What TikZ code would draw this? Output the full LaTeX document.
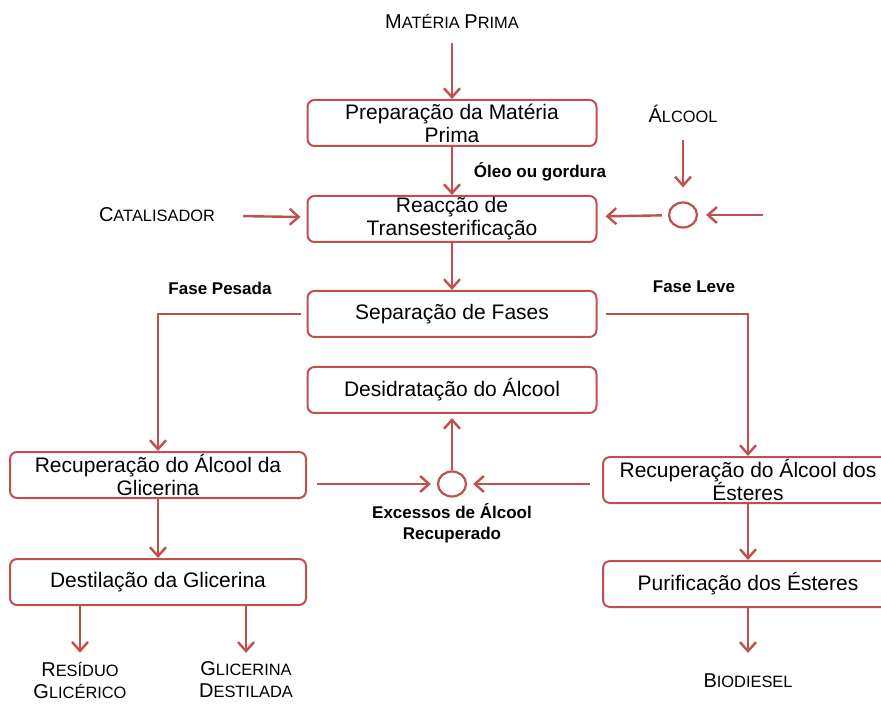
\documentclass[tikz,border=0pt]{standalone}
\usepackage{fontspec}
\setmainfont{Liberation Sans}
\usetikzlibrary{shapes.geometric,arrows.meta,positioning}
\definecolor{flowred}{RGB}{192,80,77}
\newcommand{\capl}[1]{{\fontsize{10}{11}\selectfont #1}}

\begin{document}
\begin{tikzpicture}[x=0.5pt, y=-0.5pt, >={Straight Barb[length=4.5pt,width=8pt]}]
   \useasboundingbox (0,0) rectangle (881,704);
   % process boxes
   \begin{scope}[every node/.style={draw=flowred, line width=1pt, rounded corners=3.5pt, minimum width=144.5pt, minimum height=23pt, inner ysep=0pt, align=center, font=\fontsize{10.5}{11.5}\selectfont}]
    \node (prep) at (452,123) {Preparação da Matéria\\Prima};
    \node (reac) at (452,219) {Reacção de\\Transesterificação};
    \node (sep) at (452,314) {Separação de Fases};
    \node (desid) at (452,390) {Desidratação do Álcool};
    \node (recglic) [minimum width=148pt] at (158,475) {Recuperação do Álcool da\\Glicerina};
    \node (destil) [minimum width=148pt] at (158,582) {Destilação da Glicerina};
    \node (recest) [minimum width=145pt] at (748,480) {Recuperação do Álcool dos\\Ésteres};
    \node (purif) [minimum width=145pt] at (748,584) {Purificação dos Ésteres};
   \end{scope}
   % mixing points
   \begin{scope}[every node/.style={ellipse, draw=flowred, line width=1.1pt, minimum width=14pt, minimum height=12.5pt, inner sep=0pt}]
    \node (alcmix) at (683,215) {};
    \node (excess) at (452,484) {};
   \end{scope}
   % inputs and products
   \begin{scope}[every node/.style={align=center, font=\fontsize{8.2}{11}\selectfont}]
    \node (materia) at (452,21) {\capl{M}ATÉRIA \capl{P}RIMA};
    \node (alcool) at (683,114) {\capl{Á}LCOOL};
    \node (catal) at (157,215) {\capl{C}ATALISADOR};
    \node (residuo) at (80,680) {\capl{R}ESÍDUO\\\capl{G}LICÉRICO};
    \node (glicerina) at (246,680) {\capl{G}LICERINA\\\capl{D}ESTILADA};
    \node (biodiesel) at (748,681) {\capl{B}IODIESEL};
   \end{scope}
   \coordinate (feed) at (763,215);
   % stream labels
   \begin{scope}[every node/.style={align=center, font=\bfseries\fontsize{8.5}{10.5}\selectfont}]
    \node (oleo) at (540,172) {Óleo ou gordura};
    \node (pesada) at (220,288) {Fase Pesada};
    \node (leve) at (694,287) {Fase Leve};
    \node (recup) at (452,523) {Excessos de Álcool\\Recuperado};
   \end{scope}
   \begin{scope}[->, draw=flowred, line width=1.2pt]
    \draw [shorten <=4pt] (materia) -- (prep);
    \draw (prep) -- (reac);
    \draw (reac) -- (sep);
    \draw [shorten <=5pt, shorten >=7pt] (alcool) -- (alcmix);
    \draw [shorten >=4pt] (feed) -- (alcmix);
    \draw [shorten <=3pt, shorten >=4pt] (alcmix) -- (reac);
    \draw [shorten <=10.5pt, shorten >=3pt] (catal) -- (reac);
    \draw [shorten <=3pt] (sep.west) -| (recglic);
    \draw [shorten <=4pt] (sep.east) -| (recest);
    \draw [shorten >=2pt] (excess) -- (desid);
    \draw [shorten <=5pt, shorten >=3pt] (excess -| recglic.east) -- (excess);
    \draw [shorten <=6pt, shorten >=3pt] (excess -| recest.west) -- (excess);
    \draw (recglic) -- (destil);
    \draw (recest) -- (purif);
    \draw [shorten >=1pt] (destil.south -| residuo) -- (residuo);
    \draw [shorten >=1pt] (destil.south -| glicerina) -- (glicerina);
    \draw [shorten >=7pt] (purif) -- (biodiesel);
   \end{scope}
\end{tikzpicture}
\end{document}
